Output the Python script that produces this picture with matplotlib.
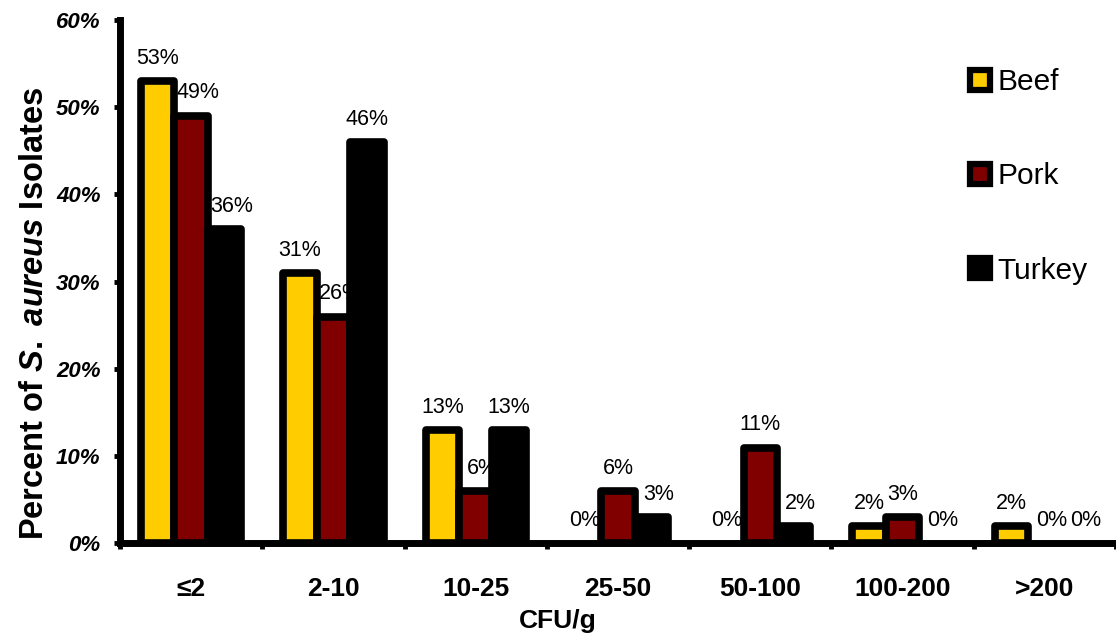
import matplotlib
matplotlib.use("Agg")
import matplotlib.pyplot as plt
from matplotlib.lines import Line2D
import numpy as np

plt.rcParams['font.family'] = ['Liberation Sans', 'DejaVu Sans']
plt.rcParams['mathtext.fontset'] = 'custom'
plt.rcParams['mathtext.it'] = 'Liberation Sans:italic:bold'
plt.rcParams['mathtext.rm'] = 'Liberation Sans:bold'

categories = ["≤2", "2-10", "10-25", "25-50", "50-100", "100-200", ">200"]
beef = [53, 31, 13, 0, 0, 2, 2]
pork = [49, 26, 6, 6, 11, 3, 0]
turkey = [36, 46, 13, 3, 2, 0, 0]
series = ["Beef", "Pork", "Turkey"]
colors = ["#FFCC00", "#800000", "#000000"]

fig = plt.figure(figsize=(11.16, 6.33), dpi=100)
ax = fig.add_axes([0.1075, 0.1414, 0.8925, 0.827])

x = np.arange(len(categories))
w = 0.235
z = 3
allvals = [beef, pork, turkey]
for i, (vals, col) in enumerate(zip(allvals, colors)):
    pos = x + (i - 1) * w
    bars = ax.bar(pos, vals, w, color=col, edgecolor="black", linewidth=5.5,
                  zorder=z)
    for b, v in zip(bars, vals):
        b.set_joinstyle("round")
        if v == 0:
            b.set_visible(False)
    for k, (px, v) in enumerate(zip(pos, vals)):
        # label pushed a bit right when the bar to the left is at least as tall
        dx = 5 if i > 0 and allvals[i - 1][k] >= v else 0
        ax.annotate(f"{v}%", (px, v), xytext=(dx, 9), textcoords="offset points",
                    ha="center", va="bottom", fontsize=15.5, zorder=z + 1)
    z += 2

ax.set_xlim(-0.5, len(categories) - 0.5)
ax.set_ylim(0, 60)
ax.set_yticks(range(0, 61, 10))
ax.set_yticklabels([f"{t}%" for t in range(0, 61, 10)], fontsize=16,
                   fontweight="bold", fontstyle="italic")
ax.set_xticks(x)
ax.set_xticklabels(categories, fontsize=19, fontweight="bold")
ax.set_xticks(np.arange(-0.5, len(categories)), minor=True)
ax.tick_params(axis="x", which="major", length=0, pad=24)
ax.tick_params(axis="x", which="minor", length=4, width=3.5, direction="out")
ax.tick_params(axis="y", length=4, width=3.5, direction="out", pad=10)

for s in ["top", "right"]:
    ax.spines[s].set_visible(False)
for s in ["left", "bottom"]:
    ax.spines[s].set_linewidth(5)
    ax.spines[s].set_zorder(2)

ax.set_ylabel(r"Percent of $\mathit{S.\ aureus}$ Isolates", fontsize=23.5,
              fontweight="bold")
ax.yaxis.set_label_coords(-0.070, 0.44)
ax.set_xlabel("CFU/g", fontsize=19, fontweight="bold")
ax.xaxis.set_label_coords(0.44, -0.125)

handles = [Line2D([], [], linestyle="none", marker="s", markersize=15,
                  markerfacecolor=c, markeredgecolor="black",
                  markeredgewidth=4.5) for c in colors]
ax.legend(handles, series, loc="upper left", bbox_to_anchor=(0.848, 0.908),
          frameon=False, fontsize=21.5, handlelength=1.0, handletextpad=0.1,
          labelspacing=2.22, borderpad=0, borderaxespad=0)

fig.savefig("out.png", dpi=100)
